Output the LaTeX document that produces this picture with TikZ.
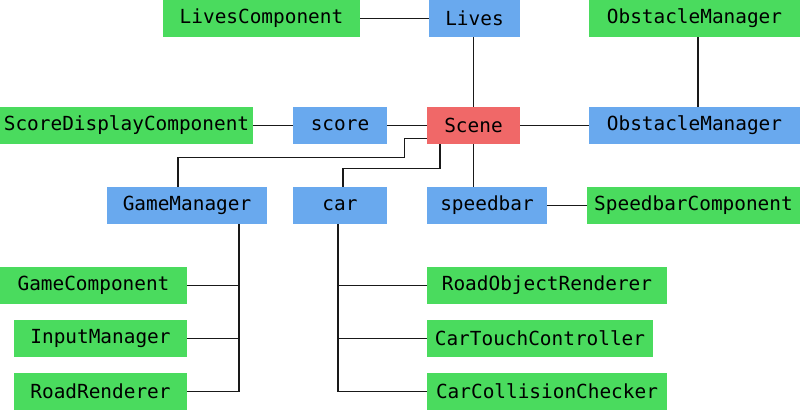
\documentclass[tikz,border=0pt]{standalone}
\usepackage{fontspec}
\setmonofont{DejaVu Sans Mono}
\usepackage{xcolor}
\usepackage{tikz}
\usetikzlibrary{positioning}

\definecolor{compgreen}{HTML}{4ADB5E}
\definecolor{objblue}{HTML}{69A9EE}
\definecolor{scenered}{HTML}{F06868}

\begin{document}
\begin{tikzpicture}[x=1pt, y=-1pt,
	box/.style={fill=#1, inner sep=0pt, minimum height=37pt,
		font=\ttfamily\fontsize{19.4}{20}\selectfont},
	comp/.style={box=compgreen},
	obj/.style={box=objblue},
	root/.style={box=scenered},
	link/.style={draw=black!90, line width=1.2pt}]

	\useasboundingbox (0,0) rectangle (800,411);

	% top row
	\node [comp, minimum width=197pt] (livescomp) at (261.5,18.5) {LivesComponent};
	\node [obj, minimum width=91pt] (lives) at (474.5,18.5) {Lives};
	\node [comp, minimum width=211pt] (obstcomp) at (694.5,18.5) {ObstacleManager};

	% scene row
	\node [comp, minimum width=253pt] (scorecomp) at (126.5,125.5) {ScoreDisplayComponent};
	\node [obj, minimum width=94pt] (score) at (340,125.5) {score};
	\node [root, minimum width=93pt] (scene) at (473.5,125.5) {Scene};
	\node [obj, minimum width=211pt] (obstacles) at (694.5,125.5) {ObstacleManager};

	% children of the scene
	\node [obj, minimum width=160pt] (gamemgr) at (187,205.5) {GameManager};
	\node [obj, minimum width=94pt] (car) at (340,205.5) {car};
	\node [obj, minimum width=120pt] (speedbar) at (487,205.5) {speedbar};
	\node [comp, minimum width=213pt] (speedcomp) at (693.5,205.5) {SpeedbarComponent};

	% components
	\node [comp, minimum width=187pt] (gamecomp) at (93.5,285.5) {GameComponent};
	\node [comp, minimum width=173pt] (input) at (100.5,338.5) {InputManager};
	\node [comp, minimum width=173pt] (roadrend) at (100.5,391.5) {RoadRenderer};
	\node [comp, minimum width=240pt] (objrend) at (547,285.5) {RoadObjectRenderer};
	\node [comp, minimum width=226pt] (touch) at (540,338.5) {CarTouchController};
	\node [comp, minimum width=240pt] (collision) at (547,391.5) {CarCollisionChecker};

	\draw [link] (livescomp) -- (lives);
	\draw [link] (scene.north) -- (scene.north |- lives.south);
	\draw [link] ([xshift=3.5pt]obstcomp.south) -- ([xshift=3.5pt]obstcomp.south |- obstacles.north);
	\draw [link] (scorecomp) -- (score);
	\draw [link] (score) -- (scene);
	\draw [link] (scene) -- (obstacles);
	\draw [link] (scene.south) -- (scene.south |- speedbar.north);
	\draw [link] (speedbar) -- (speedcomp);
	\draw [link] ([yshift=-13pt]scene.west) -- ++(-22,0) |- ++(0,19) -| ([xshift=-9pt]gamemgr.north);
	\draw [link] ([xshift=-33.5pt]scene.south) |- ++(0,24) -| ([xshift=3pt]car.north);

	\coordinate (gmbus) at ([xshift=52pt]gamemgr.south);
	\coordinate (carbus) at ([xshift=-2pt]car.south);
	\draw [link] (gmbus) |- (roadrend.east);
	\draw [link] (carbus) |- (collision.west);
	\foreach \n in {gamecomp, input}
		\draw [link] (\n.east) -- (\n.east -| gmbus);
	\foreach \n in {objrend, touch}
		\draw [link] (\n.west) -- (\n.west -| carbus);
\end{tikzpicture}
\end{document}
